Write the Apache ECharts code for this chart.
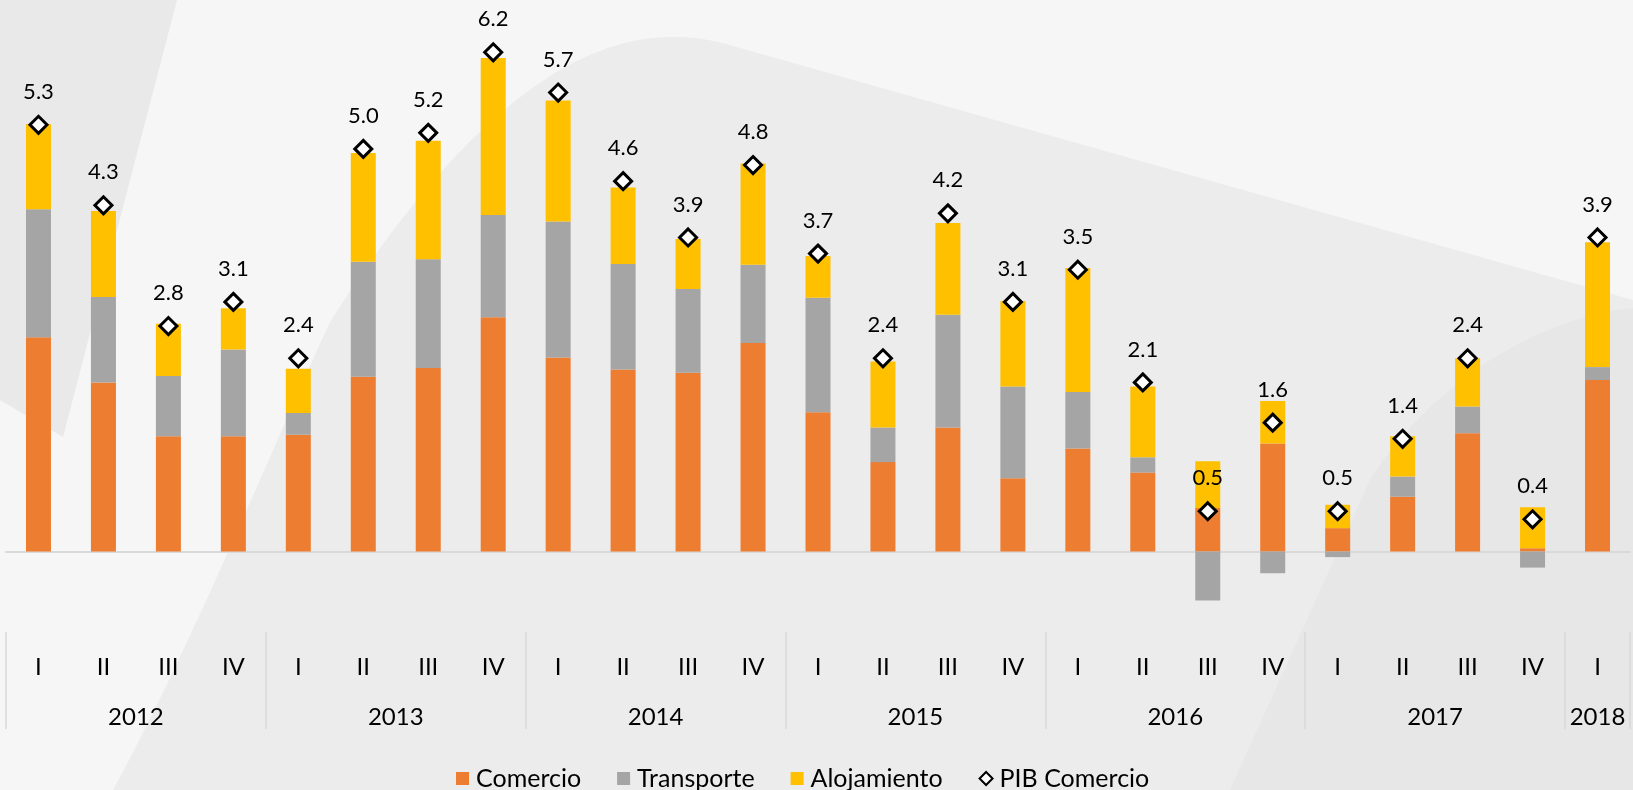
<!DOCTYPE html>
<html>
<head>
<meta charset="utf-8">
<script src="https://cdn.jsdelivr.net/npm/echarts@6/dist/echarts.min.js"></script>
<style>
html, body { margin: 0; padding: 0; }
#main { width: 1633px; height: 790px; }
</style>
</head>
<body>
<div id="main"></div>
<script>
// trimestres y años
var quarters = ['I', 'II', 'III', 'IV', 'I', 'II', 'III', 'IV', 'I', 'II', 'III', 'IV',
    'I', 'II', 'III', 'IV', 'I', 'II', 'III', 'IV', 'I', 'II', 'III', 'IV', 'I'];
var years = ['2012', '2013', '2014', '2015', '2016', '2017', '2018'];
var yearPos = [2, 6, 10, 14, 18, 22, 24.5];

// aportes por sector
var comercio = [2.66, 2.10, 1.43, 1.43, 1.45, 2.17, 2.28, 2.91, 2.41, 2.26, 2.22, 2.59,
    1.73, 1.11, 1.54, 0.91, 1.28, 0.98, 0.54, 1.34, 0.29, 0.68, 1.47, 0.04, 2.13];
var transporte = [1.59, 1.06, 0.75, 1.08, 0.27, 1.43, 1.35, 1.27, 1.69, 1.31, 1.04, 0.97,
    1.42, 0.43, 1.40, 1.14, 0.70, 0.19, -0.61, -0.27, -0.07, 0.25, 0.33, -0.20, 0.16];
var alojamiento = [1.06, 1.07, 0.65, 0.51, 0.55, 1.35, 1.47, 1.95, 1.50, 0.95, 0.62, 1.26,
    0.52, 0.82, 1.14, 1.06, 1.54, 0.88, 0.58, 0.53, 0.29, 0.50, 0.60, 0.51, 1.55];
var pibComercio = [5.3, 4.3, 2.8, 3.1, 2.4, 5.0, 5.2, 6.2, 5.7, 4.6, 3.9, 4.8,
    3.7, 2.4, 4.2, 3.1, 3.5, 2.1, 0.5, 1.6, 0.5, 1.4, 2.4, 0.4, 3.9];

var fontName = 'Lato, "Noto Sans", sans-serif';

/* curvas del fondo decorativo */
function bez(p0, p1, p2, p3, n) {
    var pts = [];
    for (var i = 0; i <= n; i++) {
        var t = i / n, u = 1 - t;
        pts.push([
            u * u * u * p0[0] + 3 * u * u * t * p1[0] + 3 * u * t * t * p2[0] + t * t * t * p3[0],
            u * u * u * p0[1] + 3 * u * u * t * p1[1] + 3 * u * t * t * p2[1] + t * t * t * p3[1]
        ]);
    }
    return pts;
}
var bigShape = []
    .concat(bez([113, 790], [190, 650], [280, 430], [330, 322], 20))
    .concat(bez([330, 322], [420, 180], [540, 40], [666, 37], 20))
    .concat(bez([666, 37], [700, 36], [720, 42], [740, 48], 6))
    .concat([[1633, 300], [1633, 790]]);
var rightShape = bez([1633, 308], [1520, 320], [1420, 400], [1370, 480], 20)
    .concat([[1230, 790], [1633, 790]]);

var myChart = echarts.init(document.getElementById('main'));

var option = {
    backgroundColor: '#f6f6f6',
    textStyle: { fontFamily: fontName },
    graphic: [
        { type: 'polygon', silent: true, z: -10,
          shape: { points: [[0, 0], [177, 0], [63, 437], [0, 400]] },
          style: { fill: '#e9e9e9' } },
        { type: 'polygon', silent: true, z: -10,
          shape: { points: bigShape },
          style: { fill: '#ececec' } },
        { type: 'polygon', silent: true, z: -9,
          shape: { points: rightShape },
          style: { fill: '#e7e7e7' } }
    ],
    legend: {
        left: 451,
        top: 761,
        itemWidth: 13,
        itemHeight: 13,
        itemGap: 36,
        textStyle: { fontSize: 25, color: '#000', fontFamily: fontName, padding: [0, 0, 0, 2] },
        data: [
            { name: 'Comercio', icon: 'rect' },
            { name: 'Transporte', icon: 'rect' },
            { name: 'Alojamiento', icon: 'rect' },
            { name: 'PIB Comercio', icon: 'diamond', itemStyle: { borderWidth: 2 } }
        ]
    },
    grid: { left: 6, right: 0, top: 4, bottom: 158 },
    xAxis: [
        {
            type: 'category',
            data: quarters,
            axisLine: { onZero: true, lineStyle: { color: '#d9d9d9', width: 2 } },
            axisTick: { show: false },
            axisLabel: { show: false }
        },
        {
            type: 'category',
            data: quarters,
            position: 'bottom',
            axisLine: { show: false, onZero: false },
            axisTick: {
                show: true,
                length: 97,
                interval: function (index) { return index % 4 === 0; },
                lineStyle: { color: '#d9d9d9', width: 1.5 }
            },
            axisLabel: { interval: 0, margin: 23, fontSize: 24, color: '#000', fontFamily: fontName }
        },
        {
            type: 'value',
            min: 0,
            max: 25,
            interval: 0.5,
            position: 'bottom',
            axisLine: { show: false, onZero: false },
            axisTick: { show: false },
            splitLine: { show: false },
            axisLabel: {
                margin: 73,
                fontSize: 24,
                color: '#000',
                fontFamily: fontName,
                formatter: function (v) {
                    var i = yearPos.indexOf(v);
                    return i >= 0 ? years[i] : '';
                }
            }
        }
    ],
    yAxis: {
        type: 'value',
        min: -1,
        max: 6.8,
        show: false,
        splitLine: { show: false }
    },
    series: [
        {
            name: 'Comercio', type: 'bar', stack: 'total', barWidth: 25,
            itemStyle: { color: '#ED7D31' }, data: comercio
        },
        {
            name: 'Transporte', type: 'bar', stack: 'total', barWidth: 25,
            itemStyle: { color: '#A5A5A5' }, data: transporte
        },
        {
            name: 'Alojamiento', type: 'bar', stack: 'total', barWidth: 25,
            itemStyle: { color: '#FFC000' }, data: alojamiento
        },
        {
            name: 'PIB Comercio', type: 'scatter', symbol: 'diamond', symbolSize: 17,
            itemStyle: { color: '#ffffff', borderColor: '#000000', borderWidth: 3, opacity: 1 },
            label: {
                show: true, position: 'top', distance: 12,
                fontSize: 22, color: '#000', fontFamily: fontName,
                formatter: function (p) { return p.value.toFixed(1); }
            },
            z: 5,
            data: pibComercio
        }
    ]
};

myChart.setOption(option);
</script>
</body>
</html>
